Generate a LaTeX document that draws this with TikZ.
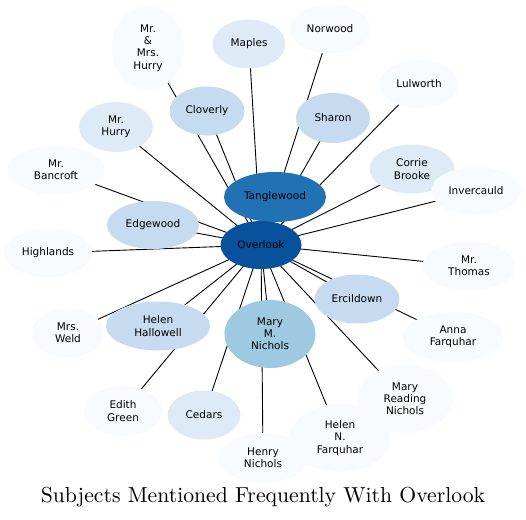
\documentclass[tikz,border=0pt]{standalone}
\usepackage{fontspec}
\newfontfamily\labelfont{DejaVu Sans}
\newfontfamily\titlefont{lmroman10-regular}[Extension=.otf]
\usetikzlibrary{shapes.geometric,backgrounds}

\definecolor{bluetop}{HTML}{08519C}
\definecolor{bluehigh}{HTML}{2171B5}
\definecolor{bluemid}{HTML}{9ECAE1}
\definecolor{bluelow}{HTML}{C6DBEF}
\definecolor{bluepale}{HTML}{DEEBF7}
\definecolor{bluefaint}{HTML}{F7FBFF}

\begin{document}
\begin{tikzpicture}[
  x=1pt,y=-1pt,
  subject/.style={ellipse,inner sep=0pt,align=center,
    font=\labelfont\fontsize{10.5}{12.2}\selectfont,text=black},
  hub/.style={subject,fill=bluetop},
  near/.style={subject,fill=bluehigh},
  mid/.style={subject,fill=bluemid},
  low/.style={subject,fill=bluelow},
  pale/.style={subject,fill=bluepale},
  faint/.style={subject,fill=bluefaint},
  link/.style={black,line width=0.9pt}
]
  \useasboundingbox (0,0) rectangle (526,519);

  % outer ring
  \node[faint,minimum width=72,minimum height=84] (hurrys) at (148,48) {Mr.\\\&\\Mrs.\\Hurry};
  \node[pale,minimum width=73,minimum height=49] (maples) at (249,44) {Maples};
  \node[faint,minimum width=81,minimum height=49] (norwood) at (330,29) {Norwood};
  \node[faint,minimum width=80,minimum height=48] (lulworth) at (419,84) {Lulworth};
  \node[pale,minimum width=74,minimum height=50] (mrhurry) at (116,127) {Mr.\\Hurry};
  \node[pale,minimum width=85,minimum height=49] (corrie) at (412,169) {Corrie\\Brooke};
  \node[faint,minimum width=90,minimum height=48] (inverc) at (476,191) {Invercauld};
  \node[faint,minimum width=97,minimum height=49] (bancroft) at (56,170) {Mr.\\Bancroft};
  \node[faint,minimum width=88,minimum height=49] (highlands) at (48,253) {Highlands};
  \node[faint,minimum width=93,minimum height=49] (thomas) at (469,266) {Mr.\\Thomas};
  \node[faint,minimum width=101,minimum height=50] (anna) at (453,337) {Anna\\Farquhar};
  \node[faint,minimum width=72,minimum height=49] (weld) at (68,333) {Mrs.\\Weld};
  \node[faint,minimum width=78,minimum height=50] (edith) at (123,411) {Edith\\Green};
  \node[pale,minimum width=73,minimum height=49] (cedars) at (204,415) {Cedars};
  \node[faint,minimum width=89,minimum height=50] (henry) at (263,458) {Henry\\Nichols};
  \node[faint,minimum width=95,minimum height=68] (maryr) at (405,399) {Mary\\Reading\\Nichols};
  \node[faint,minimum width=101,minimum height=68] (helenn) at (340,438) {Helen\\N.\\Farquhar};

  % inner ring
  \node[low,minimum width=75,minimum height=49] (cloverly) at (207,111) {Cloverly};
  \node[low,minimum width=74,minimum height=50] (sharon) at (333,118) {Sharon};
  \node[low,minimum width=92,minimum height=48] (edgewood) at (153,225) {Edgewood};
  \node[low,minimum width=85,minimum height=49] (ercil) at (357,299) {Ercildown};
  \node[low,minimum width=104,minimum height=49] (hallowell) at (158,326) {Helen\\Hallowell};
  \node[mid,minimum width=91,minimum height=68] (marym) at (270,334) {Mary\\M.\\Nichols};
  \node[near,minimum width=102,minimum height=50] (tangle) at (275,197) {Tanglewood};
  \node[hub,minimum width=81,minimum height=48] (ov) at (261,245) {Overlook};

  \begin{pgfonlayer}{background}
    \foreach \other in {hurrys,maples,norwood,lulworth,mrhurry,corrie,inverc,
        bancroft,highlands,thomas,anna,weld,edith,cedars,henry,maryr,helenn,
        cloverly,sharon,edgewood,ercil,hallowell,marym,tangle}
      \draw[link] (ov.center) -- (\other.center);
  \end{pgfonlayer}

  \node[font=\titlefont\fontsize{21.7}{26}\selectfont] (title) at (263,497) {Subjects Mentioned Frequently With Overlook};
\end{tikzpicture}
\end{document}
